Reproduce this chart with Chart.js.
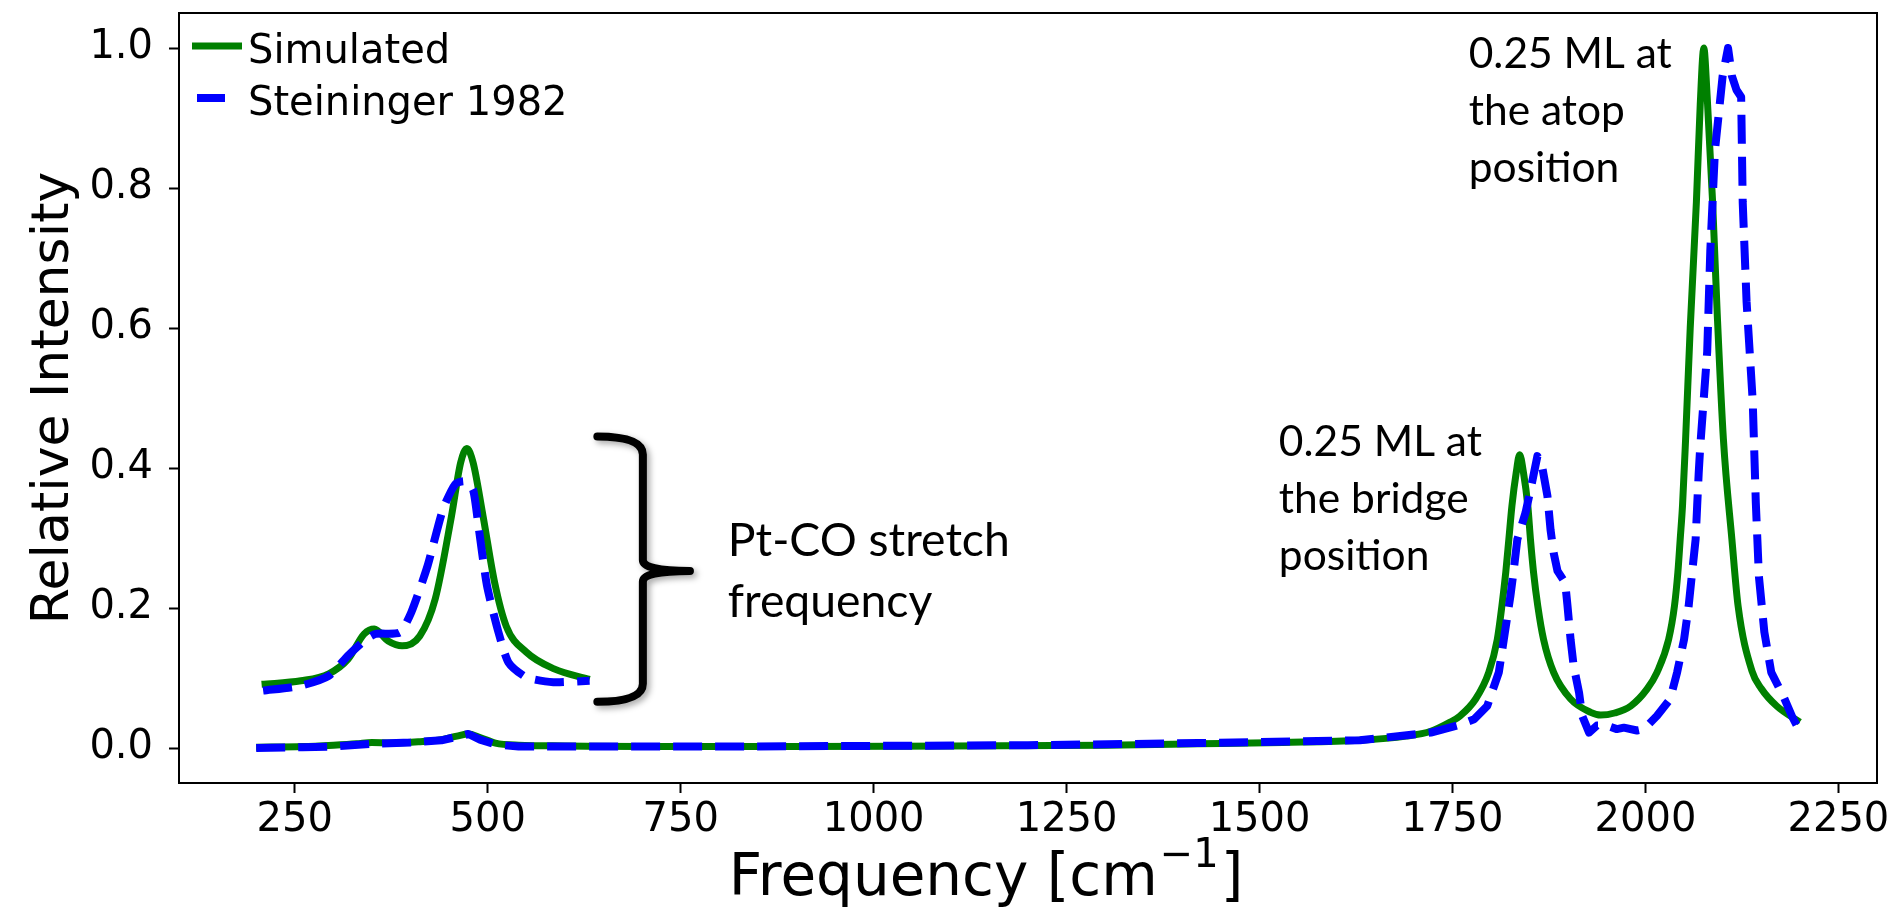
<!DOCTYPE html>
<html>
<head>
<meta charset="utf-8">
<title>Pt-CO vibrational spectrum</title>
<script src="https://cdn.jsdelivr.net/npm/chart.js@4.4.1/dist/chart.umd.min.js"></script>
<style>
    html, body { margin: 0; padding: 0; background: #fff; }
    #spectrumChart { display: block; }
</style>
</head>
<body>
<canvas id="spectrumChart" width="1894" height="913"></canvas>
<script>
// Simulated spectrum (main axes)
const simFreq = [200, 260, 300, 330, 350, 375, 410, 440, 460, 475, 490, 510, 540, 600, 700, 900, 1100, 1300, 1420, 1530, 1630, 1690, 1722, 1747, 1760, 1780, 1797, 1808, 1814, 1819, 1823, 1827, 1832.5, 1837, 1842, 1847.6, 1851, 1855, 1860.5, 1868, 1881, 1903, 1929, 1942, 1960, 1981, 2002, 2015, 2030, 2037.6, 2042, 2045, 2048, 2052, 2058, 2066, 2071, 2075.6, 2080, 2087, 2093, 2101, 2112, 2120, 2138, 2150, 2170, 2200];
const simIntensity = [0.001, 0.002, 0.004, 0.006, 0.008, 0.007, 0.009, 0.012, 0.017, 0.020, 0.015, 0.007, 0.004, 0.003, 0.002, 0.002, 0.003, 0.004, 0.006, 0.008, 0.011, 0.017, 0.024, 0.037, 0.046, 0.070, 0.108, 0.155, 0.203, 0.251, 0.298, 0.346, 0.393, 0.419, 0.393, 0.346, 0.298, 0.251, 0.203, 0.155, 0.108, 0.070, 0.051, 0.047, 0.050, 0.060, 0.084, 0.108, 0.155, 0.203, 0.251, 0.298, 0.346, 0.441, 0.600, 0.780, 0.920, 1.000, 0.930, 0.780, 0.620, 0.441, 0.298, 0.203, 0.110, 0.085, 0.060, 0.037];

// Steininger 1982 experiment (main axes)
const expFreq = [200, 260, 300, 350, 400, 440, 460, 475, 490, 510, 540, 600, 800, 1000, 1200, 1420, 1630, 1722, 1756, 1778, 1795, 1810, 1816.5, 1825, 1829, 1834, 1844.6, 1853, 1860, 1866, 1873, 1877, 1881, 1886, 1896, 1899, 1903, 1907, 1914, 1918, 1927, 1937, 1950, 1963, 1972, 1989, 1998, 2015, 2032, 2041, 2050, 2056, 2060.5, 2065, 2067, 2069, 2071, 2080, 2084, 2090, 2100, 2107, 2112, 2118, 2124, 2126, 2131, 2139, 2143, 2147, 2154, 2163, 2179, 2190, 2200];
const expIntensity = [0.000, 0.001, 0.002, 0.006, 0.008, 0.011, 0.016, 0.020, 0.012, 0.005, 0.002, 0.002, 0.002, 0.003, 0.004, 0.007, 0.011, 0.022, 0.032, 0.041, 0.060, 0.108, 0.155, 0.217, 0.251, 0.298, 0.336, 0.379, 0.417, 0.403, 0.360, 0.312, 0.279, 0.253, 0.236, 0.203, 0.155, 0.117, 0.079, 0.046, 0.022, 0.032, 0.032, 0.027, 0.029, 0.025, 0.027, 0.046, 0.070, 0.108, 0.155, 0.203, 0.251, 0.298, 0.346, 0.393, 0.431, 0.566, 0.710, 0.853, 0.960, 1.000, 0.960, 0.940, 0.930, 0.780, 0.638, 0.495, 0.350, 0.245, 0.166, 0.108, 0.073, 0.045, 0.024];

// Magnified Pt-CO stretch region (inset, values as drawn)
const insetSimFreq = [207, 258, 294, 319, 340, 353, 371, 389, 412, 432, 453, 465, 473, 481, 494, 509, 524, 550, 586, 632];
const insetSimIntensity = [0.091, 0.096, 0.106, 0.127, 0.163, 0.170, 0.153, 0.146, 0.160, 0.213, 0.331, 0.408, 0.428, 0.408, 0.331, 0.236, 0.174, 0.137, 0.113, 0.098];
const insetExpFreq = [209, 258, 294, 319, 342, 355, 386, 401, 422, 442, 458, 470, 481, 488, 499, 514, 527, 550, 585, 632];
const insetExpIntensity = [0.082, 0.089, 0.103, 0.132, 0.155, 0.163, 0.165, 0.194, 0.260, 0.341, 0.377, 0.381, 0.369, 0.317, 0.232, 0.165, 0.122, 0.101, 0.094, 0.096];

// Axis ticks and labels
const xTicks = [250, 500, 750, 1000, 1250, 1500, 1750, 2000, 2250];
const yTicks = [0.0, 0.2, 0.4, 0.6, 0.8, 1.0];
const seriesLabels = ['Simulated', 'Steininger 1982'];
const xTitle = ['Frequency [cm', '\u22121', ']'];
const yTitle = 'Relative Intensity';

// Text annotations, anchored in data units
const notes = [
    { lines: ['Pt-CO stretch', 'frequency'], x: 811, y: 0.274, width: 282, gap: 61 },
    { lines: ['0.25 ML at', 'the bridge', 'position'], x: 1525, y: 0.4165, width: 203, gap: 57 },
    { lines: ['0.25 ML at', 'the atop', 'position'], x: 1771, y: 0.971, width: 203, gap: 57 }
];

// Curly brace next to the inset
const brace = { armX: 642, stemX: 701, tipX: 762, top: 0.445, mid: 0.253, bottom: 0.066 };

const GREEN = '#008000';
const BLUE = '#0000ff';
const AXIS_FONT = 'DejaVu Sans';
const NOTE_FONT = 'Lato';

function toPoints(xs, ys) {
    return xs.map((x, i) => ({ x: x, y: ys[i] }));
}

// Draw frame, legend, x title, annotations and brace on top of the datasets
const decorPlugin = {
    id: 'decor',
    afterDatasetsDraw(chart) {
        const { ctx, chartArea, scales } = chart;
        const sx = scales.x;
        const sy = scales.y;

        ctx.save();

        // Frame round the plot area
        ctx.strokeStyle = '#000';
        ctx.lineWidth = 2;
        ctx.strokeRect(chartArea.left, chartArea.top, chartArea.right - chartArea.left, chartArea.bottom - chartArea.top);

        // Legend
        const lx = chartArea.left;
        const ly = chartArea.top;
        ctx.lineCap = 'butt';
        ctx.strokeStyle = GREEN;
        ctx.lineWidth = 7;
        ctx.beginPath();
        ctx.moveTo(lx + 13, ly + 33);
        ctx.lineTo(lx + 63, ly + 33);
        ctx.stroke();
        ctx.strokeStyle = BLUE;
        ctx.lineWidth = 8;
        ctx.beginPath();
        ctx.moveTo(lx + 18, ly + 85);
        ctx.lineTo(lx + 46, ly + 85);
        ctx.stroke();
        ctx.fillStyle = '#000';
        ctx.font = '40px "' + AXIS_FONT + '"';
        ctx.textAlign = 'left';
        ctx.textBaseline = 'alphabetic';
        ctx.fillText(seriesLabels[0], lx + 69, ly + 50);
        ctx.fillText(seriesLabels[1], lx + 69, ly + 102);

        // X axis title with superscript
        const mainFont = '58px "' + AXIS_FONT + '"';
        const supFont = '40px "' + AXIS_FONT + '"';
        ctx.font = mainFont;
        const w0 = ctx.measureText(xTitle[0]).width;
        const w2 = ctx.measureText(xTitle[2]).width;
        ctx.font = supFont;
        const w1 = ctx.measureText(xTitle[1]).width;
        const tx0 = (chartArea.left + chartArea.right) / 2 - 44 - (w0 + w1 + w2) / 2;
        const base = chartArea.bottom + 112;
        ctx.font = mainFont;
        ctx.fillText(xTitle[0], tx0, base);
        ctx.font = supFont;
        ctx.fillText(xTitle[1], tx0 + w0 + 2, base - 28);
        ctx.font = mainFont;
        ctx.fillText(xTitle[2], tx0 + w0 + w1 + 4, base);

        // Annotations
        notes.forEach(note => {
            ctx.font = '100px "' + NOTE_FONT + '"';
            const size = 100 * note.width / ctx.measureText(note.lines[0]).width;
            ctx.font = size.toFixed(1) + 'px "' + NOTE_FONT + '"';
            const x0 = sx.getPixelForValue(note.x);
            const y0 = sy.getPixelForValue(note.y);
            note.lines.forEach((line, i) => {
                ctx.fillText(line, x0, y0 + i * note.gap);
            });
        });

        // Brace
        const ax = sx.getPixelForValue(brace.armX);
        const vx = sx.getPixelForValue(brace.stemX);
        const px = sx.getPixelForValue(brace.tipX);
        const yt = sy.getPixelForValue(brace.top);
        const ym = sy.getPixelForValue(brace.mid);
        const yb = sy.getPixelForValue(brace.bottom);
        const r = 18;
        ctx.shadowColor = 'rgba(0, 0, 0, 0.35)';
        ctx.shadowBlur = 6;
        ctx.shadowOffsetX = 3;
        ctx.shadowOffsetY = 3;
        ctx.strokeStyle = '#000';
        ctx.lineWidth = 8;
        ctx.lineCap = 'round';
        ctx.lineJoin = 'round';
        ctx.beginPath();
        ctx.moveTo(ax, yt);
        ctx.quadraticCurveTo(vx, yt, vx, yt + r);
        ctx.lineTo(vx, ym - r * 0.6);
        ctx.quadraticCurveTo(vx, ym, px, ym);
        ctx.moveTo(px, ym);
        ctx.quadraticCurveTo(vx, ym, vx, ym + r * 0.6);
        ctx.lineTo(vx, yb - r);
        ctx.quadraticCurveTo(vx, yb, ax, yb);
        ctx.stroke();

        ctx.restore();
    }
};

const tickFont = { family: AXIS_FONT, size: 40 };
const titleFont = { family: AXIS_FONT, size: 52 };
const tickGrid = { drawOnChartArea: false, tickLength: 10, tickWidth: 2, tickColor: '#000' };

const chart = new Chart(document.getElementById('spectrumChart'), {
    type: 'line',
    data: {
        datasets: [
            {
                label: seriesLabels[0],
                data: toPoints(simFreq, simIntensity),
                borderColor: GREEN,
                borderWidth: 7,
                pointRadius: 0,
                cubicInterpolationMode: 'monotone',
                borderJoinStyle: 'round',
                order: 2
            },
            {
                label: seriesLabels[1],
                data: toPoints(expFreq, expIntensity),
                borderColor: BLUE,
                borderWidth: 8,
                borderDash: [29, 13],
                pointRadius: 0,
                tension: 0,
                borderJoinStyle: 'round',
                order: 1
            },
            {
                label: seriesLabels[0] + ' (inset)',
                data: toPoints(insetSimFreq, insetSimIntensity),
                yAxisID: 'yInset',
                borderColor: GREEN,
                borderWidth: 7,
                pointRadius: 0,
                cubicInterpolationMode: 'monotone',
                borderJoinStyle: 'round',
                order: 2
            },
            {
                label: seriesLabels[1] + ' (inset)',
                data: toPoints(insetExpFreq, insetExpIntensity),
                yAxisID: 'yInset',
                borderColor: BLUE,
                borderWidth: 8,
                borderDash: [29, 13],
                pointRadius: 0,
                tension: 0.2,
                borderJoinStyle: 'round',
                order: 1
            }
        ]
    },
    options: {
        responsive: false,
        devicePixelRatio: 1,
        animation: false,
        layout: {
            padding: { left: 0, top: 13, right: 17, bottom: 0 }
        },
        plugins: {
            legend: { display: false },
            tooltip: { enabled: false }
        },
        scales: {
            x: {
                type: 'linear',
                min: 100,
                max: 2300,
                afterBuildTicks: scale => { scale.ticks = xTicks.map(v => ({ value: v })); },
                afterFit: scale => { scale.height = 130; },
                ticks: { font: tickFont, color: '#000', padding: 4, autoSkip: false, maxRotation: 0, callback: v => String(v) },
                grid: tickGrid,
                border: { display: false },
                title: { display: false }
            },
            y: {
                min: -0.05,
                max: 1.05,
                afterBuildTicks: scale => { scale.ticks = yTicks.map(v => ({ value: v })); },
                afterFit: scale => {
                    scale.width = 179;
                    scale.paddingTop = 0;
                    scale.paddingBottom = 0;
                },
                ticks: { font: tickFont, color: '#000', padding: 16, callback: v => Number(v).toFixed(1) },
                grid: tickGrid,
                border: { display: false },
                title: { display: true, text: yTitle, font: titleFont, color: '#000', padding: { top: 23, bottom: 0 } }
            },
            yInset: {
                display: false,
                min: -0.05,
                max: 1.05
            }
        }
    },
    plugins: [decorPlugin]
});
</script>
</body>
</html>
